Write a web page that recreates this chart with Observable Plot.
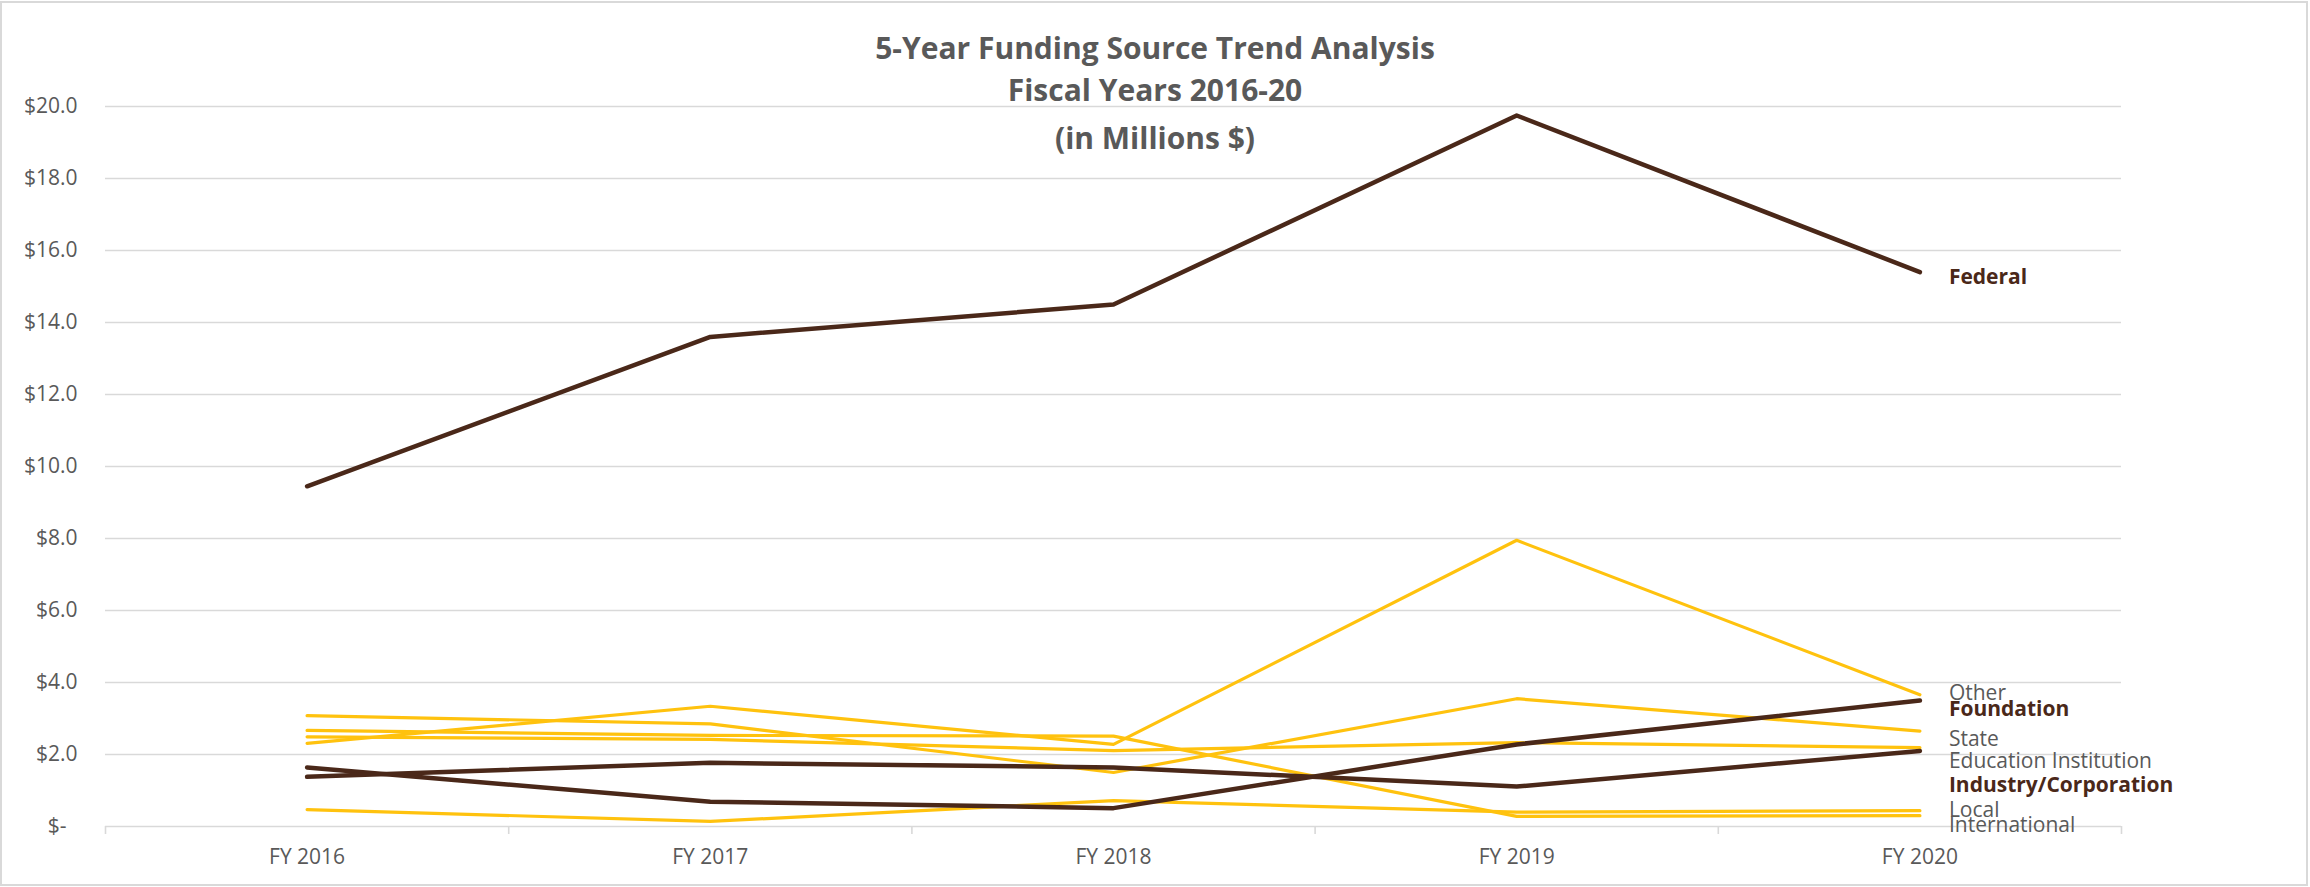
<!DOCTYPE html>
<html>
<head>
<meta charset="utf-8">
<script src="https://cdn.jsdelivr.net/npm/d3@7"></script>
<script src="https://cdn.jsdelivr.net/npm/@observablehq/plot@0.6"></script>
<style>
  html, body { margin: 0; padding: 0; background: #fff; }
  #wrap { position: relative; width: 2310px; height: 887px; overflow: hidden; font-family: 'Open Sans', sans-serif; }
  #frame { position: absolute; left: 0; top: 1px; width: 2308px; height: 885px; box-sizing: border-box; border: 2px solid #d9d9d9; pointer-events: none; }
  .tl { position: absolute; left: 0; width: 2310px; text-align: center; font-size: 30px; line-height: 30px; font-weight: 700; color: #595959; white-space: nowrap; }
  #chart { position: absolute; left: 0; top: 0; }
</style>
</head>
<body>
<div id="wrap">
  <div id="chart"></div>
  <div class="tl" style="top:33px">5-Year Funding Source Trend Analysis</div>
  <div class="tl" style="top:75px">Fiscal Years 2016-20</div>
  <div class="tl" style="top:123px">(in Millions $)</div>
  <div id="frame"></div>
</div>
<script>
// ---- data (in millions of dollars) ----
const years = ["FY 2016", "FY 2017", "FY 2018", "FY 2019", "FY 2020"];
const yTicks = [0, 2, 4, 6, 8, 10, 12, 14, 16, 18, 20];

const federal       = [9.45, 13.6, 14.5, 19.75, 15.4];
const other         = [2.31, 3.34, 2.28, 7.95, 3.66];
const foundation    = [1.64, 0.69, 0.51, 2.28, 3.50];
const state         = [3.08, 2.85, 1.50, 3.55, 2.65];
const education     = [2.49, 2.42, 2.11, 2.33, 2.19];
const industry      = [1.38, 1.77, 1.64, 1.11, 2.10];
const local         = [0.47, 0.14, 0.72, 0.40, 0.44];
const international = [2.67, 2.53, 2.51, 0.28, 0.30];

// ---- styling ----
const BROWN = "#4a2819";
const GOLD = "#ffc20e";
const GREY = "#595959";
const GRID = "#d9d9d9";

const series = [
  {name: "Other", values: other, color: GOLD, bold: false, dy: -1},
  {name: "State", values: state, color: GOLD, bold: false, dy: 8},
  {name: "Education Institution", values: education, color: GOLD, bold: false, dy: 14},
  {name: "Local", values: local, color: GOLD, bold: false, dy: 0},
  {name: "International", values: international, color: GOLD, bold: false, dy: 10},
  {name: "Federal", values: federal, color: BROWN, bold: true, dy: 5},
  {name: "Foundation", values: foundation, color: BROWN, bold: true, dy: 9},
  {name: "Industry/Corporation", values: industry, color: BROWN, bold: true, dy: 34}
];

const rows = series.flatMap(s => s.values.map((v, i) => ({name: s.name, i, value: v})));

const lineMarks = series.map(s =>
  Plot.line(rows.filter(r => r.name === s.name), {
    x: "i", y: "value",
    stroke: s.color,
    strokeWidth: s.bold ? 4.5 : 3.2,
    strokeLinejoin: "round",
    strokeLinecap: "round"
  })
);

const labelMarks = series.map(s =>
  Plot.text([s], {
    x: () => s.values.length - 1,
    y: d => d.values[d.values.length - 1],
    text: d => d.name,
    dx: 29,
    dy: s.dy,
    textAnchor: "start",
    fontSize: 21,
    fontWeight: s.bold ? 700 : 400,
    fill: s.bold ? BROWN : GREY
  })
);

const chart = Plot.plot({
  width: 2310,
  height: 887,
  marginTop: 106,
  marginBottom: 61,
  marginLeft: 105,
  marginRight: 189,
  style: {fontFamily: "'Open Sans', sans-serif", fontSize: "21px", background: "transparent", color: GREY},
  x: {type: "linear", domain: [-0.5, years.length - 0.5], axis: null},
  y: {domain: [0, 20], axis: null},
  marks: [
    Plot.gridY(yTicks, {stroke: GRID, strokeOpacity: 1, strokeWidth: 1.6}),
    Plot.axisY({
      ticks: yTicks, tickSize: 0, tickPadding: 28,
      tickFormat: v => v === 0 ? "$-\u00a0\u00a0" : "$" + v.toFixed(1),
      fill: GREY, fontSize: 21, label: null
    }),
    Plot.axisX({
      ticks: d3.range(-0.5, years.length, 1), tickSize: 8, tickFormat: () => "",
      stroke: GRID, strokeOpacity: 1, strokeWidth: 1.6, label: null
    }),
    Plot.axisX({
      ticks: d3.range(years.length), tickSize: 0, tickPadding: 23,
      tickFormat: i => years[i], fill: GREY, fontSize: 21, label: null
    }),
    ...lineMarks,
    ...labelMarks
  ]
});

document.getElementById("chart").appendChild(chart);
</script>
</body>
</html>
